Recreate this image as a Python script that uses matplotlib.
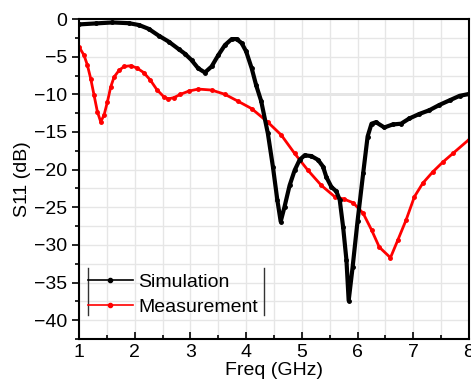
import matplotlib
matplotlib.use("Agg")
import matplotlib.pyplot as plt
from matplotlib.lines import Line2D

plt.rcParams['font.family'] = ['Liberation Sans', 'DejaVu Sans']

# Simulation
sim_freq = [1.0, 1.3, 1.6, 1.9, 2.08, 2.25, 2.43, 2.61, 2.79, 2.9, 3.02, 3.14,
            3.26, 3.38, 3.50, 3.62, 3.74, 3.83, 3.92, 4.00, 4.10, 4.18, 4.27,
            4.39, 4.48, 4.56, 4.62, 4.69, 4.78, 4.87, 4.96, 5.05, 5.17, 5.29,
            5.38, 5.44, 5.53, 5.62, 5.68, 5.74, 5.80, 5.84, 5.91, 6.0, 6.10,
            6.18, 6.25, 6.33, 6.48, 6.63, 6.78, 6.93, 7.11, 7.29, 7.47, 7.65,
            7.83, 8.0]
sim_s11 = [-0.71, -0.58, -0.45, -0.55, -0.8, -1.3, -2.2, -3.0, -4.0, -4.6,
           -5.45, -6.55, -7.1, -6.3, -4.8, -3.45, -2.66, -2.66, -3.2, -4.3,
           -6.55, -8.8, -10.9, -15.2, -19.6, -24.05, -26.9, -24.9, -22.1,
           -20.1, -18.7, -18.1, -18.2, -18.7, -19.6, -21.0, -22.3, -22.9,
           -24.05, -27.6, -32.0, -37.4, -33.0, -26.8, -20.5, -15.6, -13.9,
           -13.7, -14.4, -14.0, -13.9, -13.2, -12.6, -12.1, -11.4, -10.8,
           -10.2, -9.95]

# Measurement
meas_freq = [1.0, 1.09, 1.15, 1.21, 1.27, 1.33, 1.39, 1.45, 1.51, 1.57, 1.63,
             1.72, 1.81, 1.93, 2.04, 2.16, 2.28, 2.40, 2.52, 2.60, 2.70, 2.82,
             2.97, 3.14, 3.38, 3.62, 3.85, 4.10, 4.39, 4.63, 4.87, 5.11, 5.35,
             5.59, 5.75, 5.92, 6.10, 6.25, 6.39, 6.59, 6.72, 6.87, 7.02, 7.17,
             7.35, 7.53, 7.71, 8.0]
meas_s11 = [-3.68, -4.8, -6.1, -7.9, -10.1, -12.3, -13.65, -12.75, -11.0,
            -9.0, -7.7, -6.8, -6.3, -6.2, -6.5, -7.1, -8.1, -9.4, -10.3,
            -10.6, -10.45, -10.0, -9.57, -9.3, -9.43, -10.0, -10.9, -11.9,
            -13.7, -15.4, -17.85, -20.1, -22.1, -23.6, -23.9, -24.4, -25.8,
            -28.0, -30.3, -31.7, -29.4, -26.7, -23.6, -21.8, -20.3, -19.0,
            -17.85, -16.0]

fig = plt.figure(figsize=(4.71, 3.89), dpi=100)
ax = fig.add_axes([0.1677, 0.1285, 0.8281, 0.8225])

ax.set_xlim(1, 8)
ax.set_ylim(-42.5, 0)
ax.set_xticks(range(1, 9))
ax.set_yticks([-40, -35, -30, -25, -20, -15, -10, -5, 0])
ax.set_xticks([1.5 + i for i in range(7)], minor=True)
ax.set_yticks([-2.5, -7.5, -12.5, -17.5, -22.5, -27.5, -32.5, -37.5, -42.5], minor=True)

ax.grid(True, which='both', color='#e6e6e6', lw=1.0, zorder=0)
ax.axhline(-10, color='#7f7f7f', lw=1.0, zorder=1)

ax.plot(sim_freq, sim_s11, color='black', lw=3, marker='o', ms=2.5,
        solid_joinstyle='round', zorder=3)
ax.plot(meas_freq, meas_s11, color='red', lw=2, marker='o', ms=2.5,
        solid_joinstyle='round', zorder=2)

ax.tick_params(axis='x', which='both', direction='in', labelsize=14, width=1.2)
ax.tick_params(axis='y', which='both', direction='out', labelsize=14, width=1.2)
ax.tick_params(which='major', length=5)
ax.tick_params(which='minor', length=3)
for s in ax.spines.values():
    s.set_linewidth(1.5)

ax.set_xlabel("Freq (GHz)", fontsize=14, labelpad=1)
ax.set_ylabel("S11 (dB)", fontsize=14, labelpad=2)

handles = [Line2D([], [], color='black', lw=1.2, marker='o', ms=3),
           Line2D([], [], color='red', lw=1.2, marker='o', ms=3)]
ax.legend(handles, ["Simulation", "Measurement"], loc='center left',
          bbox_to_anchor=(0.023, 0.139), frameon=False, fontsize=14,
          borderpad=0, borderaxespad=0, handlelength=2.3, handletextpad=0.3,
          labelspacing=0.35, numpoints=1)
for xb in (0.023, 0.474):
    ax.plot([xb, xb], [0.075, 0.222], transform=ax.transAxes, color='#333333',
            lw=1.0, zorder=4)

fig.savefig("out.png", dpi=100)
